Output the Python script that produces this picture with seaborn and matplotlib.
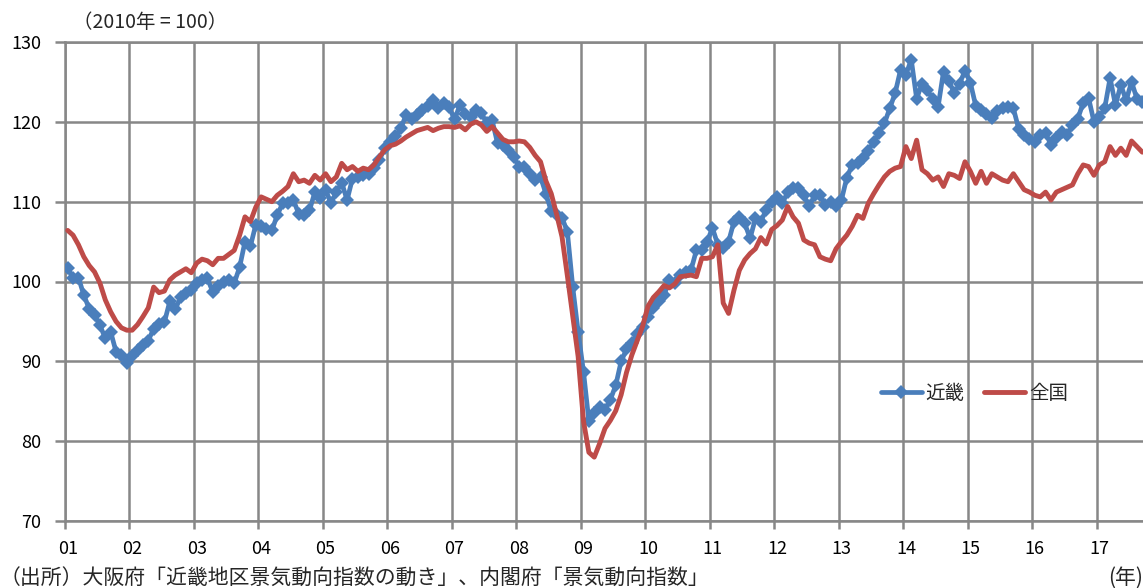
import numpy as np
import pandas as pd
import matplotlib
matplotlib.use("Agg")
import matplotlib.pyplot as plt
import seaborn as sns
from matplotlib.ticker import FixedLocator

# Monthly composite index (2010 = 100), January 2001 - September 2017
kinki = [
    101.7, 100.4, 100.5, 98.3, 96.6, 95.8, 94.5, 92.9, 93.7, 91.2, 90.8, 89.8,      # 2001
    90.7, 91.4, 92.0, 92.6, 94.1, 94.7, 94.9, 97.5, 96.5, 98.0, 98.5, 98.9,         # 2002
    99.8, 100.2, 100.4, 98.7, 99.4, 100.0, 100.2, 99.8, 101.8, 105.0, 104.4, 107.1, # 2003
    106.9, 106.6, 106.4, 108.3, 109.8, 109.8, 110.2, 108.5, 108.3, 108.9, 111.2, 110.4,  # 2004
    111.5, 109.8, 111.2, 112.4, 110.2, 112.9, 113.1, 113.3, 113.5, 114.2, 115.2, 116.7,  # 2005
    117.5, 118.2, 119.2, 120.9, 120.3, 120.8, 121.5, 122.0, 122.7, 121.7, 122.3, 121.8,  # 2006
    120.3, 122.1, 121.0, 120.6, 121.5, 121.1, 119.8, 120.2, 117.3, 117.1, 116.5, 115.6,  # 2007
    114.4, 114.4, 113.5, 112.7, 113.1, 111.0, 108.8, 108.3, 108.0, 106.2, 99.3, 93.7,    # 2008
    88.7, 82.5, 83.5, 84.3, 83.9, 85.2, 87.0, 90.0, 91.5, 92.3, 93.4, 94.3,              # 2009
    95.6, 96.7, 97.5, 98.3, 100.2, 99.8, 100.8, 101.2, 101.4, 103.9, 103.9, 105.0,       # 2010
    106.7, 104.6, 104.2, 105.0, 107.5, 108.1, 107.3, 105.4, 107.9, 107.5, 109.0, 110.0,  # 2011
    110.6, 109.8, 111.2, 111.7, 111.7, 110.8, 109.4, 110.8, 110.8, 109.6, 110.0, 109.4,  # 2012
    110.2, 113.0, 114.6, 114.9, 115.5, 116.4, 117.5, 118.6, 119.8, 121.7, 123.6, 126.5,  # 2013
    125.9, 127.8, 122.9, 124.8, 124.0, 122.8, 121.9, 126.3, 125.1, 123.6, 124.8, 126.4,  # 2014
    124.9, 122.0, 121.5, 121.0, 120.5, 121.3, 121.7, 121.9, 121.7, 119.1, 118.3, 117.9,  # 2015
    117.5, 118.4, 118.6, 117.1, 118.0, 118.7, 118.3, 119.6, 120.4, 122.4, 123.0, 120.0,  # 2016
    120.6, 121.7, 125.5, 122.1, 124.6, 122.7, 125.0, 122.9, 122.5,                      # 2017
]

zenkoku = [
    106.4, 105.8, 104.6, 103.1, 102.0, 101.2, 99.8, 97.7, 96.2, 95.0, 94.2, 93.9,       # 2001
    93.9, 94.6, 95.6, 96.7, 99.3, 98.6, 98.8, 100.2, 100.8, 101.2, 101.6, 101.1,        # 2002
    102.3, 102.8, 102.6, 102.1, 102.9, 102.9, 103.4, 103.9, 105.8, 108.1, 107.5, 109.3, # 2003
    110.6, 110.3, 110.0, 110.8, 111.3, 111.9, 113.5, 112.5, 112.7, 112.3, 113.3, 112.7, # 2004
    113.5, 112.5, 113.1, 114.8, 114.0, 114.4, 113.8, 114.2, 114.0, 114.6, 115.6, 116.5, # 2005
    117.0, 117.2, 117.6, 118.1, 118.5, 118.9, 119.1, 119.3, 118.9, 119.2, 119.4, 119.4, # 2006
    119.3, 119.5, 119.0, 119.7, 120.0, 119.6, 118.8, 119.4, 118.6, 117.8, 117.5, 117.5, # 2007
    117.6, 117.5, 116.8, 115.8, 115.0, 112.6, 111.0, 108.4, 105.6, 100.7, 95.6, 90.6,   # 2008
    82.5, 78.6, 78.0, 79.7, 81.6, 82.6, 83.8, 85.8, 88.6, 90.8, 92.6, 94.4,             # 2009
    96.9, 98.0, 98.7, 99.5, 99.2, 99.7, 100.6, 100.7, 100.8, 100.6, 102.9, 102.9,       # 2010
    103.1, 104.6, 97.3, 96.0, 98.9, 101.4, 102.7, 103.5, 104.1, 105.5, 104.7, 106.5,    # 2011
    107.0, 107.7, 109.4, 108.1, 107.3, 105.2, 104.8, 104.6, 103.1, 102.8, 102.6, 104.1, # 2012
    105.0, 105.8, 106.9, 108.3, 107.9, 109.8, 111.0, 112.1, 113.1, 113.8, 114.2, 114.4, # 2013
    116.9, 115.4, 117.7, 114.0, 113.5, 112.7, 113.1, 111.9, 113.5, 113.3, 112.9, 115.0, # 2014
    113.8, 112.3, 113.8, 112.3, 113.5, 113.1, 112.7, 112.5, 113.5, 112.5, 111.5, 111.2, # 2015
    110.8, 110.6, 111.2, 110.2, 111.2, 111.5, 111.8, 112.1, 113.5, 114.6, 114.4, 113.3, # 2016
    114.6, 115.0, 116.9, 115.8, 116.7, 115.8, 117.6, 116.9, 116.2,                     # 2017
]

year_labels = ["01", "02", "03", "04", "05", "06", "07", "08", "09",
               "10", "11", "12", "13", "14", "15", "16", "17"]
series_names = ["近畿", "全国"]
y_ticks = [70, 80, 90, 100, 110, 120, 130]

BLUE = "#4A7EBB"
RED = "#BE4B48"
GRID = "#878787"

sns.set_theme(style="white")
plt.rcParams["font.family"] = ["Noto Sans CJK JP", "DejaVu Sans"]

n = len(kinki)
df = pd.DataFrame({"month": np.arange(n), series_names[0]: kinki, series_names[1]: zenkoku})

W, H = 1143, 588
fig = plt.figure(figsize=(W / 100, H / 100), dpi=100)
ax = fig.add_axes([65 / W, 67 / H, 1080 / W, 479 / H])

sns.lineplot(data=df, x="month", y=series_names[0], ax=ax, color=BLUE, lw=3.4,
             marker="D", markersize=6.8, markeredgewidth=0, label=series_names[0], zorder=3)
sns.lineplot(data=df, x="month", y=series_names[1], ax=ax, color=RED, lw=3.5,
             label=series_names[1], zorder=4)

ax.set_xlim(-0.5, n - 0.5)
ax.set_ylim(70, 130)
ax.set_xlabel("")
ax.set_ylabel("")

# year labels on the January of each year, gridlines on year boundaries
ax.xaxis.set_major_locator(FixedLocator(np.arange(0, n, 12)))
ax.set_xticklabels(year_labels)
ax.xaxis.set_minor_locator(FixedLocator(np.arange(-0.5, n, 12)))
ax.tick_params(axis="x", which="major", length=0, pad=14, labelsize=13, colors="black")
ax.tick_params(axis="x", which="minor", length=6, width=1.8, color=GRID, direction="out", bottom=True)
ax.yaxis.set_major_locator(FixedLocator(y_ticks))
ax.tick_params(axis="y", which="major", length=7, width=1.8, color=GRID, direction="out",
               pad=10, labelsize=13, left=True, labelcolor="black")
ax.grid(False)
ax.grid(True, axis="x", which="minor", color=GRID, lw=1.8)
ax.grid(True, axis="y", which="major", color=GRID, lw=1.8)
ax.set_axisbelow(True)

for side in ["left", "bottom", "top"]:
    ax.spines[side].set_visible(True)
    ax.spines[side].set_color(GRID)
    ax.spines[side].set_linewidth(1.8)
ax.spines["right"].set_visible(False)

leg = ax.legend(loc="center", bbox_to_anchor=(0.842, 0.267), ncol=2, frameon=False,
                fontsize=14, handlelength=2.1, handletextpad=0.2, columnspacing=1.0)

fig.text(73 / W, 1 - 22 / H, "（2010年 = 100）", fontsize=14, ha="left", va="center")
fig.text(0.0, 1 - 578 / H, "（出所）大阪府「近畿地区景気動向指数の動き」、内閣府「景気動向指数」",
         fontsize=15, ha="left", va="center")
fig.text(1.0, 1 - 578 / H, "(年)", fontsize=15, ha="right", va="center")

fig.savefig("out.png", dpi=100)
